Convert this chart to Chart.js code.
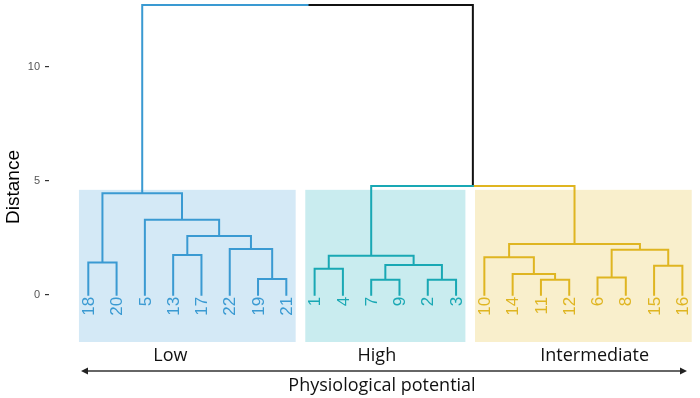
<!DOCTYPE html>
<html>
<head>
<meta charset="utf-8">
<script src="https://cdn.jsdelivr.net/npm/chart.js@4.4.1/dist/chart.umd.min.js"></script>
<style>
  html, body { margin: 0; padding: 0; background: #fff; }
  canvas { display: block; }
</style>
</head>
<body>
<canvas id="dendro" width="700" height="398"></canvas>
<script>
// leaves, left to right
const leafOrder = [18, 20, 5, 13, 17, 22, 19, 21, 1, 4, 7, 9, 2, 3, 10, 14, 11, 12, 6, 8, 15, 16]
const leafGroup = [0, 0, 0, 0, 0, 0, 0, 0, 1, 1, 1, 1, 1, 1, 2, 2, 2, 2, 2, 2, 2, 2]
const groupNames = ["Low", "High", "Intermediate"]

// hclust style merges: negative = leaf number, positive = earlier merge (1-based)
const mergeLeft = [-7, -2, -11, -19, -6, -14, -1, -15, 1, -18, -10, 7, -13, 5, -22, 11, 13, -5, 10, 12, 19]
const mergeRight = [-9, -3, -12, -21, -8, 3, -4, -16, 2, -20, 6, 9, -17, 8, 4, 14, 15, 17, 18, 16, 20]
const mergeHeight = [0.66, 0.66, 0.66, 0.69, 0.76, 0.91, 1.14, 1.27, 1.31, 1.41, 1.65, 1.71, 1.74, 1.97, 2.01, 2.23, 2.58, 3.29, 4.45, 4.77, 12.70]

const yTicks = [0, 5, 10]
const boxTop = 4.6
const boxBottom = -2.07

const lineColors = ["#3a9ad2", "#19a8b4", "#dfb521"]
const boxColors = ["#d4e9f6", "#c9ecef", "#f9efcc"]
const rootColor = "#111111"

// build node positions (x = midpoint of children, like R's dendrogram)
const leafPos = {}
leafOrder.forEach((id, i) => { leafPos[id] = i + 1 })
const nodeX = [], nodeGroup = []

function child(ref) {
    if (ref < 0) {
        const p = leafPos[-ref]
        return { x: p, h: 0, g: leafGroup[p - 1] }
    }
    return { x: nodeX[ref - 1], h: mergeHeight[ref - 1], g: nodeGroup[ref - 1] }
}

// one list of points per colour, null breaks the line between branches
const segs = { 0: [], 1: [], 2: [], "-1": [] }
for (let i = 0; i < mergeHeight.length; i++) {
    const a = child(mergeLeft[i])
    const b = child(mergeRight[i])
    const px = (a.x + b.x) / 2
    const h = mergeHeight[i]
    nodeX.push(px)
    nodeGroup.push(a.g === b.g ? a.g : -1)
    for (const c of [a, b]) {
        segs[c.g].push({ x: c.x, y: c.h }, { x: c.x, y: h }, { x: px, y: h }, { x: px, y: null })
    }
}

const datasets = ["0", "1", "2", "-1"].map(k => ({
    data: segs[k],
    showLine: true,
    spanGaps: false,
    borderColor: k === "-1" ? rootColor : lineColors[+k],
    borderWidth: 2,
    pointRadius: 0,
    borderJoinStyle: "miter",
    borderCapStyle: "square",
    clip: false
}))

// where the group names sit under the boxes (x in leaf units)
const groupLabelX = [3.9, 11.2, 18.9]

const decor = {
    id: "decor",
    beforeDatasetsDraw(chart) {
        const ctx = chart.ctx
        const x = chart.scales.x, y = chart.scales.y
        ctx.save()
        for (let g = 0; g < groupNames.length; g++) {
            const idx = leafGroup.map((v, i) => v === g ? i + 1 : null).filter(v => v !== null)
            const x0 = x.getPixelForValue(Math.min(...idx) - 0.33)
            const x1 = x.getPixelForValue(Math.max(...idx) + 0.33)
            const y0 = y.getPixelForValue(boxTop)
            const y1 = y.getPixelForValue(boxBottom)
            ctx.fillStyle = boxColors[g]
            ctx.fillRect(x0, y0, x1 - x0, y1 - y0)
        }
        ctx.restore()
    },
    afterDraw(chart) {
        const ctx = chart.ctx
        const x = chart.scales.x, y = chart.scales.y
        ctx.save()
        // leaf labels, rotated
        ctx.font = "17px 'Liberation Sans', Arial, sans-serif"
        ctx.textAlign = "right"
        ctx.textBaseline = "middle"
        leafOrder.forEach((id, i) => {
            ctx.save()
            ctx.translate(x.getPixelForValue(i + 1) + 1, y.getPixelForValue(0) + 2)
            ctx.rotate(-Math.PI / 2)
            ctx.fillStyle = lineColors[leafGroup[i]]
            ctx.fillText(String(id), 0, 0)
            ctx.restore()
        })
        // group names
        ctx.font = "18px 'Open Sans', sans-serif"
        ctx.fillStyle = "#111"
        ctx.textAlign = "center"
        ctx.textBaseline = "alphabetic"
        groupNames.forEach((n, g) => ctx.fillText(n, x.getPixelForValue(groupLabelX[g]), 361))
        // double arrow
        const ax0 = 81, ax1 = 687, ay = 371
        ctx.strokeStyle = "#333"
        ctx.fillStyle = "#222"
        ctx.lineWidth = 1.3
        ctx.beginPath()
        ctx.moveTo(ax0 + 4, ay)
        ctx.lineTo(ax1 - 4, ay)
        ctx.stroke()
        ctx.beginPath()
        ctx.moveTo(ax0, ay); ctx.lineTo(ax0 + 7, ay - 3.5); ctx.lineTo(ax0 + 7, ay + 3.5); ctx.closePath()
        ctx.moveTo(ax1, ay); ctx.lineTo(ax1 - 7, ay - 3.5); ctx.lineTo(ax1 - 7, ay + 3.5); ctx.closePath()
        ctx.fill()
        // x title
        ctx.fillStyle = "#111"
        ctx.fillText("Physiological potential", 382, 391)
        // y title
        ctx.translate(14, 187)
        ctx.rotate(-Math.PI / 2)
        ctx.font = "19px 'Liberation Sans', Arial, sans-serif"
        ctx.textBaseline = "middle"
        ctx.fillStyle = "#000"
        ctx.fillText("Distance", 0, 0)
        ctx.restore()
    }
}

new Chart(document.getElementById("dendro"), {
    type: "scatter",
    data: { datasets: datasets },
    options: {
        responsive: false,
        animation: false,
        devicePixelRatio: 1,
        layout: { padding: { top: 3, right: 8, bottom: 56, left: 0 } },
        plugins: { legend: { display: false }, tooltip: { enabled: false } },
        scales: {
            x: { type: "linear", min: -0.389, max: 22.34, display: false },
            y: {
                type: "linear",
                min: boxBottom,
                max: 12.79,
                afterBuildTicks: scale => { scale.ticks = yTicks.map(v => ({ value: v })) },
                afterFit: scale => {
                    scale.width = 49
                    scale.paddingTop = 0
                    scale.paddingBottom = 0
                },
                border: { display: false },
                grid: { drawOnChartArea: false, drawTicks: true, tickLength: 4, color: "#333", lineWidth: 1.2 },
                ticks: {
                    padding: 5,
                    color: "#555",
                    font: { family: "'Liberation Sans', Arial, sans-serif", size: 11 }
                }
            }
        }
    },
    plugins: [decor]
})
</script>
</body>
</html>
